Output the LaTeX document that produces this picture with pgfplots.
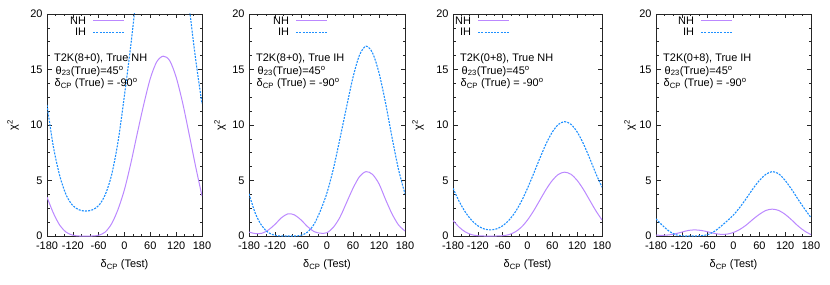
\documentclass[border=0pt]{standalone}
\usepackage{fontspec}
\setmainfont{Liberation Sans}
\usepackage{pgfplots}
\pgfplotsset{compat=1.18}
\definecolor{nhcol}{RGB}{187,136,255}
\definecolor{ihcol}{RGB}{30,144,255}
\pgfplotsset{
  chiaxis/.style={
    anchor=south west, scale only axis, height=222bp,
    xmin=-180, xmax=180, ymin=0, ymax=20,
    xtick={-180,-120,...,180}, ytick={0,5,...,20},
    minor x tick num=2, minor y tick num=3,
    tick align=inside, major tick length=4.5bp, minor tick length=2.5bp,
    axis line style={line width=0.8bp, black!85},
    every tick/.style={black!85, line width=0.6bp},
    font=\fontsize{11}{13}\selectfont,
    /pgf/number format/assume math mode=true,
    xticklabel style={yshift=-2.5bp},
    yticklabel style={xshift=-1bp},
    xlabel={δ\textsubscript{CP} (Test)},
    ylabel={χ\textsuperscript{2}},
    xlabel style={at={(axis description cs:0.5,0)}, anchor=center, yshift=-29bp},
    legend plot pos=right,
    legend cell align=right,
    legend image code/.code={\draw[##1] (0bp,0.6bp) -- (31bp,0.6bp);},
    legend style={draw=none, fill=none, inner sep=0pt, column sep=6bp, row sep=1.5bp,
      anchor=north east, at={(axis description cs:0,1)},
      nodes={inner sep=0.5bp}},
  },
  nhline/.style={color=nhcol, line width=1bp, smooth},
  ihline/.style={color=ihcol, line width=1.1bp, dash pattern=on 2bp off 1.2bp, smooth},
}
\newcommand{\legimgs}{%
  \addlegendimage{draw=nhcol, color=nhcol, line width=1.3bp, dash pattern=on 40bp off 0bp}
  \addlegendentry{NH}
  \addlegendimage{draw=ihcol, color=ihcol, line width=1.2bp, dash pattern=on 2bp off 1.2bp}
  \addlegendentry{IH}}
\newcommand{\annot}[1]{\node[anchor=north west, align=left, inner sep=0pt, font=\fontsize{11}{12.5}\selectfont]
  at (axis description cs:0,1) [xshift=7bp, yshift=-39.5bp]
  {#1\\\hspace{1.5bp}θ\textsubscript{23}(True)=45\textsuperscript{o}\\\hspace{0.5bp}δ\textsubscript{CP} (True) = -90\textsuperscript{o}};}
\begin{document}
\begin{tikzpicture}[x=1bp,y=1bp]
\path[use as bounding box] (0,0) rectangle (830,284);
% Panel 1
\begin{axis}[chiaxis, at={(47bp,48bp)}, width=155bp,
  ylabel style={at={(axis description cs:0,0.5)}, anchor=center, yshift=34bp},
  legend style={xshift=78bp, yshift=-2bp}]
\legimgs
\addplot[nhline, forget plot] coordinates {(-180,3.5) (-165,2.05) (-150,0.95) (-135,0.33) (-120,0.07) (-105,0.0) (-90,0.0) (-75,0.0) (-60,0.07) (-45,0.35) (-30,1.1) (-15,2.4) (0,4.2) (15,6.6) (30,9.3) (45,11.9) (60,14.2) (75,15.7) (90,16.2) (105,15.8) (120,14.3) (135,12.0) (150,9.2) (165,6.3) (180,3.6)};
\addplot[ihline, forget plot] coordinates {(-180,11.8) (-165,8.0) (-150,5.37) (-135,3.65) (-120,2.74) (-105,2.35) (-90,2.25) (-75,2.35) (-60,2.74) (-45,3.7) (-30,5.5) (-15,8.5) (0,12.7) (15,17.3) (30,22.5) (45,27.4) (60,31.8) (75,34.8) (90,35.8) (105,34.6) (120,31.2) (135,26.5) (150,20.8) (165,16.0) (180,11.9)};
\annot{T2K(8+0), True NH}
\end{axis}
% Panel 2
\begin{axis}[chiaxis, at={(249bp,48bp)}, width=156bp,
  ylabel style={at={(axis description cs:0,0.5)}, anchor=center, yshift=29bp},
  legend style={xshift=79bp, yshift=-2bp}]
\legimgs
\addplot[nhline, forget plot] coordinates {(-180,0.35) (-165,0.22) (-150,0.25) (-135,0.55) (-120,1.05) (-105,1.65) (-90,2.0) (-75,1.9) (-60,1.45) (-45,0.85) (-30,0.4) (-15,0.25) (0,0.3) (15,0.8) (30,1.7) (45,3.0) (60,4.3) (75,5.35) (90,5.8) (105,5.55) (120,4.7) (135,3.3) (150,2.0) (165,1.0) (180,0.45)};
\addplot[ihline, forget plot] coordinates {(-180,3.8) (-165,2.0) (-150,0.9) (-135,0.3) (-120,0.06) (-105,0.0) (-90,0.0) (-75,0.0) (-60,0.06) (-45,0.35) (-30,1.05) (-15,2.3) (0,3.9) (15,6.1) (30,8.8) (45,11.6) (60,14.3) (75,16.3) (90,17.1) (105,16.5) (120,14.7) (135,12.0) (150,8.9) (165,6.0) (180,3.8)};
\annot{T2K(8+0), True IH}
\end{axis}
% Panel 3
\begin{axis}[chiaxis, at={(453bp,48bp)}, width=149bp,
  ylabel style={at={(axis description cs:0,0.5)}, anchor=center, yshift=35bp},
  legend style={xshift=57bp, yshift=-2bp}]
\legimgs
\addplot[nhline, forget plot] coordinates {(-180,1.4) (-165,0.79) (-150,0.36) (-135,0.12) (-120,0.026) (-105,0.0) (-90,0.0) (-75,0.0) (-60,0.026) (-45,0.12) (-30,0.36) (-15,0.79) (0,1.44) (15,2.28) (30,3.24) (45,4.2) (60,5.01) (75,5.56) (90,5.75) (105,5.56) (120,5.01) (135,4.2) (150,3.24) (165,2.28) (180,1.44)};
\addplot[ihline, forget plot] coordinates {(-180,4.3) (-165,3.11) (-150,2.14) (-135,1.42) (-120,0.92) (-105,0.64) (-90,0.55) (-75,0.64) (-60,0.92) (-45,1.42) (-30,2.14) (-15,3.11) (0,4.3) (15,5.64) (30,7.02) (45,8.31) (60,9.37) (75,10.06) (90,10.3) (105,10.06) (120,9.37) (135,8.31) (150,7.02) (165,5.64) (180,4.4)};
\annot{T2K(0+8), True NH}
\end{axis}
% Panel 4
\begin{axis}[chiaxis, at={(656bp,48bp)}, width=155bp,
  ylabel style={at={(axis description cs:0,0.5)}, anchor=center, yshift=26bp},
  legend style={xshift=77bp, yshift=-2bp}]
\legimgs
\addplot[nhline, forget plot] coordinates {(-180,0.08) (-165,0.06) (-150,0.1) (-135,0.2) (-120,0.35) (-105,0.5) (-90,0.55) (-75,0.5) (-60,0.38) (-45,0.24) (-30,0.15) (-15,0.17) (0,0.32) (15,0.6) (30,1.0) (45,1.5) (60,1.95) (75,2.3) (90,2.42) (105,2.3) (120,1.95) (135,1.45) (150,0.9) (165,0.45) (180,0.12)};
\addplot[ihline, forget plot] coordinates {(-180,1.55) (-165,0.95) (-150,0.45) (-135,0.12) (-120,0.02) (-105,0.0) (-90,0.0) (-75,0.03) (-60,0.12) (-45,0.4) (-30,0.85) (-15,1.35) (0,1.9) (15,2.6) (30,3.4) (45,4.25) (60,5.0) (75,5.55) (90,5.8) (105,5.6) (120,5.0) (135,4.2) (150,3.3) (165,2.45) (180,1.65)};
\annot{T2K(0+8), True IH}
\end{axis}
\end{tikzpicture}
\end{document}
